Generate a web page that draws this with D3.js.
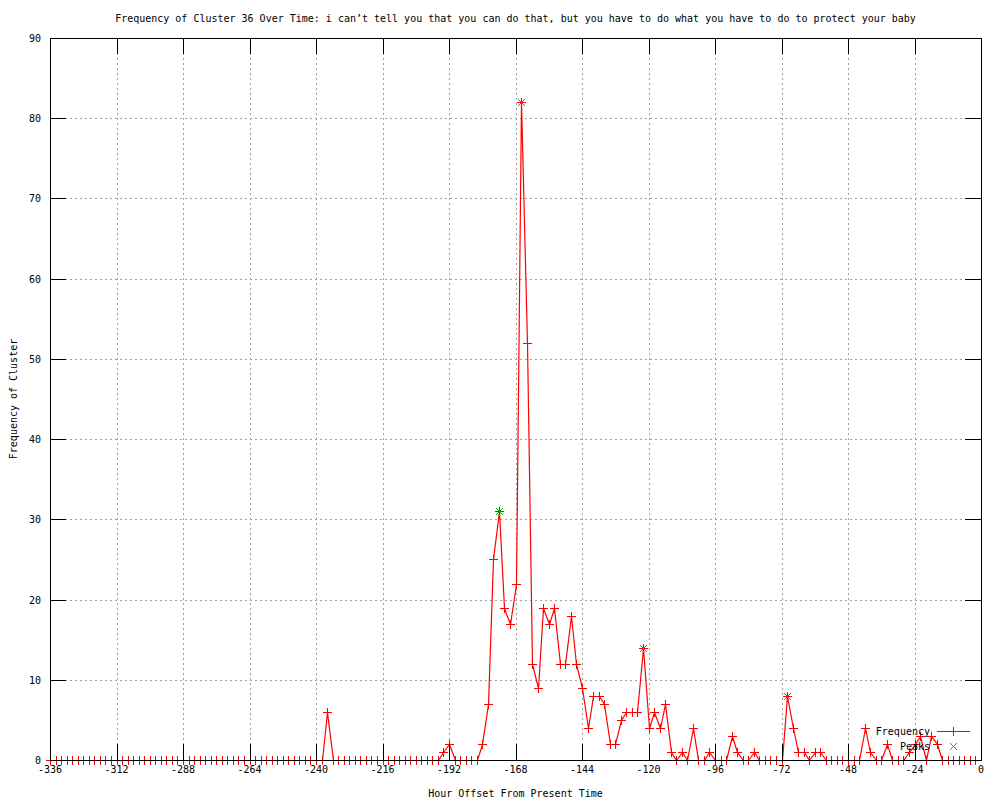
<!DOCTYPE html>
<html>
<head>
<meta charset="utf-8">
<script src="https://cdn.jsdelivr.net/npm/d3@7/dist/d3.min.js"></script>
<style>
  body { margin: 0; background: #fff; }
  text { font-family: "DejaVu Sans Mono", monospace; font-size: 10px; fill: #000; }
</style>
</head>
<body>
<div id="container"></div>
<script>
// hour offsets (x) and cluster frequency (y)
var hours = [
  -336, -334, -332, -330, -328, -326, -324, -322, -320, -318, -316, -314,
  -312, -310, -308, -306, -304, -302, -300, -298, -296, -294, -292, -290,
  -288, -286, -284, -282, -280, -278, -276, -274, -272, -270, -268, -266,
  -264, -262, -260, -258, -256, -254, -252, -250, -248, -246, -244, -242,
  -240, -238, -236, -234, -232, -230, -228, -226, -224, -222, -220, -218,
  -216, -214, -212, -210, -208, -206, -204, -202, -200, -198, -196, -194,
  -192, -190, -188, -186, -184, -182, -180, -178, -176, -174, -172, -170,
  -168, -166, -164, -162, -160, -158, -156, -154, -152, -150, -148, -146,
  -144, -142, -140, -138, -136, -134, -132, -130, -128, -126, -124, -122,
  -120, -118, -116, -114, -112, -110, -108, -106, -104, -102, -100, -98,
  -96, -94, -92, -90, -88, -86, -84, -82, -80, -78, -76, -74,
  -72, -70, -68, -66, -64, -62, -60, -58, -56, -54, -52, -50,
  -48, -46, -44, -42, -40, -38, -36, -34, -32, -30, -28, -26,
  -24, -22, -20, -18, -16, -14, -12, -10, -8, -6, -4, -2
];
var frequency = [
  0, 0, 0, 0, 0, 0, 0, 0, 0, 0, 0, 0,
  0, 0, 0, 0, 0, 0, 0, 0, 0, 0, 0, 0,
  0, 0, 0, 0, 0, 0, 0, 0, 0, 0, 0, 0,
  0, 0, 0, 0, 0, 0, 0, 0, 0, 0, 0, 0,
  0, 0, 6, 0, 0, 0, 0, 0, 0, 0, 0, 0,
  0, 0, 0, 0, 0, 0, 0, 0, 0, 0, 0, 1,
  2, 0, 0, 0, 0, 0, 2, 7, 25, 31, 19, 17,
  22, 82, 52, 12, 9, 19, 17, 19, 12, 12, 18, 12,
  9, 4, 8, 8, 7, 2, 2, 5, 6, 6, 6, 14,
  4, 6, 4, 7, 1, 0, 1, 0, 4, 0, 0, 1,
  0, 0, 0, 3, 1, 0, 0, 1, 0, 0, 0, 0,
  0, 8, 4, 1, 1, 0, 1, 1, 0, 0, 0, 0,
  0, 0, 0, 4, 1, 0, 0, 2, 0, 0, 0, 1,
  2, 3, 0, 3, 2, 0, 0, 0, 0, 0, 0, 0
];
var peakHours = [-174, -166, -122, -70];
var peakValues = [31, 82, 14, 8];

var xTicks = [-336, -312, -288, -264, -240, -216, -192, -168, -144, -120, -96, -72, -48, -24, 0];
var yTicks = [0, 10, 20, 30, 40, 50, 60, 70, 80, 90];

var titleText = "Frequency of Cluster 36 Over Time: i can\u2019t tell you that you can do that, but you have to do what you have to do to protect your baby";

var margin = {top: 38, right: 19, bottom: 40, left: 50},
    width = 1000 - margin.left - margin.right,
    height = 800 - margin.top - margin.bottom;

var svg = d3.select("#container").append("svg")
    .attr("width", 1000)
    .attr("height", 800);

var g = svg.append("g")
    .attr("transform", "translate(" + margin.left + "," + margin.top + ")");

var x = d3.scaleLinear().domain([-336, 0]).range([0, width]);
var y = d3.scaleLinear().domain([0, 90]).range([height, 0]);

// grid
g.append("g").selectAll("line")
    .data(xTicks.filter(function(d) { return d > -336 && d < 0; }))
  .enter().append("line")
    .attr("x1", function(d) { return Math.round(x(d)) + 0.5; })
    .attr("x2", function(d) { return Math.round(x(d)) + 0.5; })
    .attr("y1", 0).attr("y2", height)
    .style("stroke", "#a0a0a0")
    .style("stroke-dasharray", "2,3")
    .style("shape-rendering", "crispEdges");
g.append("g").selectAll("line")
    .data(yTicks.filter(function(d) { return d > 0 && d < 90; }))
  .enter().append("line")
    .attr("y1", function(d) { return Math.round(y(d)) + 0.5; })
    .attr("y2", function(d) { return Math.round(y(d)) + 0.5; })
    .attr("x1", 0).attr("x2", width)
    .style("stroke", "#a0a0a0")
    .style("stroke-dasharray", "2,3")
    .style("shape-rendering", "crispEdges");

var data = hours.map(function(h, i) { return {h: h, v: frequency[i]}; });
var peaks = peakHours.map(function(h, i) { return {h: h, v: peakValues[i]}; });

var line = d3.line()
    .x(function(d) { return Math.round(x(d.h)) + 0.5; })
    .y(function(d) { return Math.round(y(d.v)) + 0.5; });

g.append("path")
    .datum(data)
    .attr("d", line)
    .style("fill", "none")
    .style("stroke", "#ff0000")
    .style("stroke-width", 1.2);

function plus(sel, s) {
  sel.append("line").attr("x1", -s).attr("x2", s + 1).attr("y1", 0.5).attr("y2", 0.5);
  sel.append("line").attr("x1", 0.5).attr("x2", 0.5).attr("y1", -s).attr("y2", s + 1);
}
function cross(sel, s) {
  sel.append("line").attr("x1", -s).attr("x2", s + 1).attr("y1", -s).attr("y2", s + 1);
  sel.append("line").attr("x1", -s).attr("x2", s + 1).attr("y1", s + 1).attr("y2", -s);
}

var pts = g.append("g").selectAll("g")
    .data(data)
  .enter().append("g")
    .attr("transform", function(d) { return "translate(" + Math.round(x(d.h)) + "," + Math.round(y(d.v)) + ")"; })
    .style("stroke", "#ff0000")
    .style("shape-rendering", "crispEdges");
plus(pts, 4);

var pk = g.append("g").selectAll("g")
    .data(peaks)
  .enter().append("g")
    .attr("transform", function(d) { return "translate(" + Math.round(x(d.h)) + "," + Math.round(y(d.v)) + ")"; })
    .style("stroke", "#00c000")
    .style("shape-rendering", "crispEdges");
cross(pk, 3);

// border + ticks (drawn over the data, as gnuplot does)
var axes = g.append("g").style("stroke", "#000").style("shape-rendering", "crispEdges");
axes.append("rect")
    .attr("x", 0.5).attr("y", 0.5)
    .attr("width", width).attr("height", height)
    .style("fill", "none");
xTicks.forEach(function(t) {
  var px = Math.round(x(t)) + 0.5;
  axes.append("line").attr("x1", px).attr("x2", px).attr("y1", height).attr("y2", height - 16);
  axes.append("line").attr("x1", px).attr("x2", px).attr("y1", 0).attr("y2", 16);
});
yTicks.forEach(function(t) {
  var py = Math.round(y(t)) + 0.5;
  axes.append("line").attr("x1", 0).attr("x2", 16).attr("y1", py).attr("y2", py);
  axes.append("line").attr("x1", width).attr("x2", width - 16).attr("y1", py).attr("y2", py);
});

// tick labels
g.append("g").selectAll("text")
    .data(xTicks)
  .enter().append("text")
    .attr("x", function(d) { return x(d); })
    .attr("y", height + 13)
    .style("text-anchor", "middle")
    .text(function(d) { return d; });
g.append("g").selectAll("text")
    .data(yTicks)
  .enter().append("text")
    .attr("x", -9)
    .attr("y", function(d) { return y(d) + 4; })
    .style("text-anchor", "end")
    .text(function(d) { return d; });

// titles
svg.append("text")
    .attr("x", margin.left + width / 2)
    .attr("y", 22)
    .style("text-anchor", "middle")
    .text(titleText);
svg.append("text")
    .attr("x", margin.left + width / 2)
    .attr("y", 797)
    .style("text-anchor", "middle")
    .text("Hour Offset From Present Time");
svg.append("text")
    .attr("transform", "translate(17," + (margin.top + height / 2) + ") rotate(-90)")
    .style("text-anchor", "middle")
    .text("Frequency of Cluster");

// legend
var legend = svg.append("g");
legend.append("text").attr("x", 930).attr("y", 735).style("text-anchor", "end").text("Frequency");
legend.append("line").attr("x1", 937).attr("x2", 970).attr("y1", 731.5).attr("y2", 731.5)
    .style("stroke", "#ff0000").style("shape-rendering", "crispEdges");
var lp = legend.append("g").attr("transform", "translate(953,731)")
    .style("stroke", "#ff0000").style("shape-rendering", "crispEdges");
plus(lp, 4);
legend.append("text").attr("x", 930).attr("y", 750).style("text-anchor", "end").text("Peaks");
var lk = legend.append("g").attr("transform", "translate(953,746)")
    .style("stroke", "#00c000").style("shape-rendering", "crispEdges");
cross(lk, 3);
</script>
</body>
</html>
